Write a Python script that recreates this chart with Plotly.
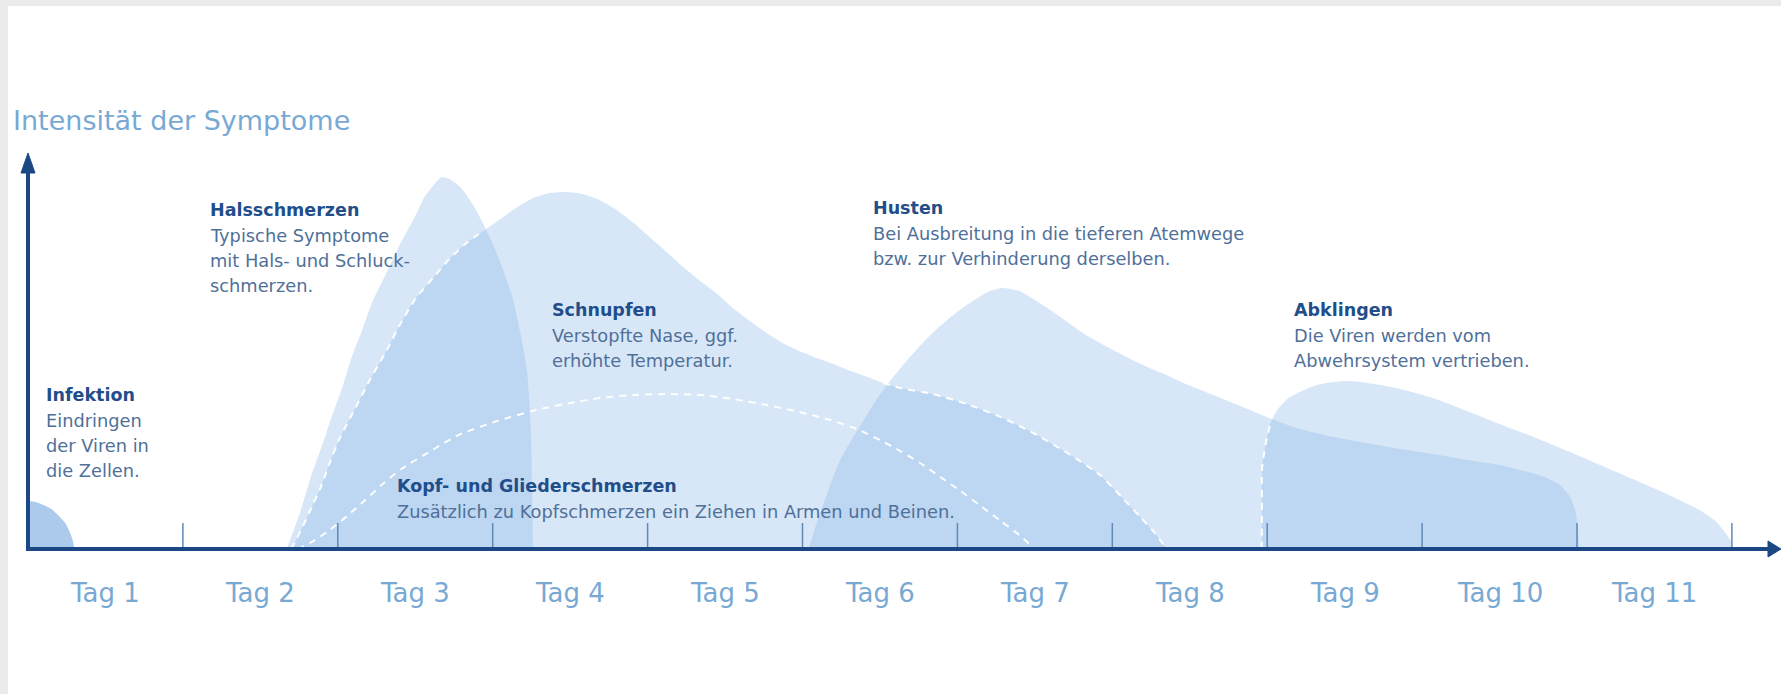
import plotly.graph_objects as go

# ---------------- data (x in days from the y axis, y = symptom intensity) ----------------
day_ticks = [1, 2, 3, 4, 5, 6, 7, 8, 9, 10, 11]
day_labels = ["Tag 1", "Tag 2", "Tag 3", "Tag 4", "Tag 5", "Tag 6",
              "Tag 7", "Tag 8", "Tag 9", "Tag 10", "Tag 11"]

infektion_x = [0, 0.05, 0.10, 0.15, 0.20, 0.24, 0.27, 0.29, 0.30]
infektion_y = [48, 47, 44, 40, 33, 26, 17, 8, 0]

hals_x = [1.67, 1.76, 1.83, 1.90, 1.96, 2.03, 2.09, 2.16, 2.22, 2.31, 2.40, 2.50, 2.56, 2.63,
          2.67, 2.72, 2.79, 2.87, 2.94, 3.00, 3.07, 3.13, 3.18, 3.22, 3.24, 3.25, 3.255, 3.26]
hals_y = [0, 38, 74, 104, 132, 162, 192, 220, 246, 275, 304, 333, 352, 366,
          372, 370, 362, 345, 325, 305, 278, 250, 215, 180, 140, 100, 50, 0]

schnupfen_x = [1.70, 1.76, 1.82, 1.89, 1.95, 2.01, 2.11, 2.21, 2.31, 2.40, 2.50, 2.62, 2.72,
               2.83, 2.94, 3.05, 3.16, 3.26, 3.37, 3.48, 3.58, 3.69, 3.80, 3.91, 4.02, 4.13,
               4.23, 4.34, 4.45, 4.55, 4.66, 4.77, 4.87, 4.98, 5.09, 5.20, 5.31, 5.42, 5.52,
               5.63, 5.84, 6.06, 6.28, 6.49, 6.71, 6.92, 7.06, 7.18, 7.28, 7.35]
schnupfen_y = [0, 18, 38, 62, 87, 110, 140, 170, 197, 224, 250, 272, 290,
               306, 318, 330, 342, 351, 356, 357, 355, 349, 339, 326, 311, 296,
               282, 268, 255, 241, 228, 216, 206, 198, 191, 185, 178, 172, 166,
               161, 155, 145, 132, 116, 96, 74, 52, 32, 15, 0]

kopf_x = [1.74, 1.82, 1.94, 2.06, 2.17, 2.29, 2.41, 2.60, 2.78, 3.03, 3.28, 3.50, 3.69, 3.91,
          4.13, 4.34, 4.55, 4.77, 4.98, 5.18, 5.35, 5.50, 5.63, 5.76, 5.89, 6.02, 6.15, 6.28,
          6.40, 6.50]
kopf_y = [0, 6, 18, 33, 48, 65, 80, 98, 114, 128, 139, 146, 151, 154,
          155, 154, 150, 144, 137, 129, 120, 109, 98, 86, 72, 58, 43, 28,
          14, 0]

husten_x = [5.04, 5.10, 5.17, 5.24, 5.32, 5.40, 5.48, 5.57, 5.66, 5.74, 5.84, 5.95, 6.05, 6.13,
            6.21, 6.29, 6.40, 6.49, 6.60, 6.71, 6.81, 6.92, 7.03, 7.13, 7.24, 7.35, 7.46, 7.57,
            7.78, 8.03, 8.21, 8.43, 8.64, 8.86, 9.07, 9.29, 9.50, 9.66, 9.79, 9.89, 9.955,
            9.99, 10.006, 10.013]
husten_y = [0, 30, 60, 88, 110, 130, 150, 169, 186, 200, 216, 231, 243, 251,
            258, 261, 258, 250, 239, 227, 216, 206, 197, 189, 181, 174, 166, 159,
            146, 130, 120, 112, 106, 100, 95, 89, 84, 78, 72, 64, 52,
            38, 20, 0]

abklingen_x = [7.965, 7.966, 7.967, 7.99, 8.02, 8.06, 8.13, 8.21, 8.32, 8.43, 8.49, 8.60, 8.73,
               8.86, 9.07, 9.29, 9.50, 9.72, 9.94, 10.15, 10.36, 10.58, 10.79, 10.90, 10.99,
               11.01]
abklingen_y = [0, 40, 80, 105, 125, 138, 150, 157, 164, 167, 168, 167, 164,
               160, 151, 138, 125, 112, 98, 84, 70, 55, 39, 27, 9,
               0]

axis_title = "Intensität der Symptome"
notes = {
    "infektion": ("Infektion", ["Eindringen", "der Viren in", "die Zellen."]),
    "hals": ("Halsschmerzen", ["Typische Symptome", "mit Hals- und Schluck-", "schmerzen."]),
    "schnupfen": ("Schnupfen", ["Verstopfte Nase, ggf.", "erhöhte Temperatur."]),
    "husten": ("Husten", ["Bei Ausbreitung in die tieferen Atemwege",
                          "bzw. zur Verhinderung derselben."]),
    "abklingen": ("Abklingen", ["Die Viren werden vom", "Abwehrsystem vertrieben."]),
    "kopf": ("Kopf- und Gliederschmerzen",
             ["Zusätzlich zu Kopfschmerzen ein Ziehen in Armen und Beinen."]),
}

# ---------------- styling / layout ----------------
PX_PER_DAY = 154.9
FILL = "rgba(128,176,228,0.31)"
FILL_DARK = "rgba(120,170,225,0.62)"
AXIS_COL = "#1b4885"
TICK_COL = "#6088b8"
HEAD_COL = "#1f4e8a"
BODY_COL = "#4f7099"
LIGHT_COL = "#78a9d4"
FONT = "DejaVu Sans"

fig = go.Figure()

def area(xs, ys, color):
    fig.add_trace(go.Scatter(x=xs, y=ys, mode="lines", fill="tozeroy", fillcolor=color,
                             line=dict(width=0, shape="spline", smoothing=0.6),
                             hoverinfo="skip", showlegend=False))

area(schnupfen_x, schnupfen_y, FILL)
area(hals_x, hals_y, FILL)
area(husten_x, husten_y, FILL)
area(abklingen_x, abklingen_y, FILL)
area(infektion_x, infektion_y, FILL_DARK)

def dashed(xs, ys):
    fig.add_trace(go.Scatter(x=xs, y=ys, mode="lines",
                             line=dict(color="rgba(255,255,255,0.95)", width=2,
                                       dash="7px,6px", shape="spline", smoothing=0.6),
                             hoverinfo="skip", showlegend=False))

# dashed outlines where a shape runs inside another one
sl = [(x, y) for x, y in zip(schnupfen_x, schnupfen_y) if x <= 2.97]
dashed([p[0] for p in sl], [p[1] for p in sl])
sr = [(x, y) for x, y in zip(schnupfen_x, schnupfen_y) if x >= 5.52]
dashed([p[0] for p in sr], [p[1] for p in sr])
dashed(kopf_x, kopf_y)
al = [(x, y) for x, y in zip(abklingen_x, abklingen_y) if x <= 8.02]
dashed([p[0] for p in al], [p[1] for p in al])

shapes = []
# white panel on a light grey border
shapes.append(dict(type="rect", xref="paper", yref="paper", x0=8 / 1781, x1=1.01,
                   y0=-0.01, y1=1 - 6 / 694, fillcolor="white", line=dict(width=0),
                   layer="below"))
# ticks
for t in day_ticks:
    shapes.append(dict(type="line", xref="x", yref="y", x0=t, x1=t, y0=0, y1=26,
                       line=dict(color=TICK_COL, width=1.5), layer="above"))
# axes
x_end = (1768 - 28) / PX_PER_DAY
x_tip = (1781 - 28) / PX_PER_DAY
shapes.append(dict(type="line", xref="x", yref="y", x0=0, x1=x_end, y0=0, y1=0,
                   line=dict(color=AXIS_COL, width=4), layer="above"))
shapes.append(dict(type="path", xref="x", yref="y",
                   path=f"M {x_end},-8 L {x_tip},0 L {x_end},8 Z",
                   fillcolor=AXIS_COL, line=dict(color=AXIS_COL, width=1), layer="above"))
hw = 7 / PX_PER_DAY
shapes.append(dict(type="line", xref="x", yref="y", x0=0, x1=0, y0=-2, y1=380,
                   line=dict(color=AXIS_COL, width=4), layer="above"))
shapes.append(dict(type="path", xref="x", yref="y",
                   path=f"M {-hw},376 L 0,396 L {hw},376 Z",
                   fillcolor=AXIS_COL, line=dict(color=AXIS_COL, width=1), layer="above"))

annotations = []
def txt(x, y, s, size, color, bold=False):
    annotations.append(dict(x=x, y=y, xref="x", yref="y", text=(f"<b>{s}</b>" if bold else s),
                            showarrow=False, xanchor="left", yanchor="middle",
                            font=dict(family=FONT, size=size, color=color)))

txt(-0.11, 429, axis_title, 27, LIGHT_COL)
for lab, t in zip(day_labels, day_ticks):
    annotations.append(dict(x=t - 0.5, y=-44, xref="x", yref="y", text=lab, showarrow=False,
                            xanchor="center", yanchor="middle",
                            font=dict(family=FONT, size=26, color=LIGHT_COL)))

note_pos = {
    "infektion": (0.105, 154),
    "hals": (1.165, 339),
    "schnupfen": (3.373, 239),
    "husten": (5.445, 341),
    "abklingen": (8.157, 239),
    "kopf": (2.372, 63),
}
for key, (head, lines) in notes.items():
    x0, y0 = note_pos[key]
    txt(x0, y0, head, 17.5, HEAD_COL, bold=True)
    for i, ln in enumerate(lines):
        txt(x0, y0 - 25 * (i + 1), ln, 17.8, BODY_COL)

fig.update_layout(
    width=1781, height=694,
    margin=dict(l=0, r=0, t=0, b=0),
    paper_bgcolor="#ebebeb", plot_bgcolor="rgba(0,0,0,0)",
    xaxis=dict(range=[-28 / PX_PER_DAY, (1781 - 28) / PX_PER_DAY], visible=False, fixedrange=True),
    yaxis=dict(range=[-145, 549], visible=False, fixedrange=True),
    shapes=shapes, annotations=annotations, showlegend=False,
)

fig.write_html("out.html", config={"displayModeBar": False},
               post_script="document.body.style.margin='0px';")
